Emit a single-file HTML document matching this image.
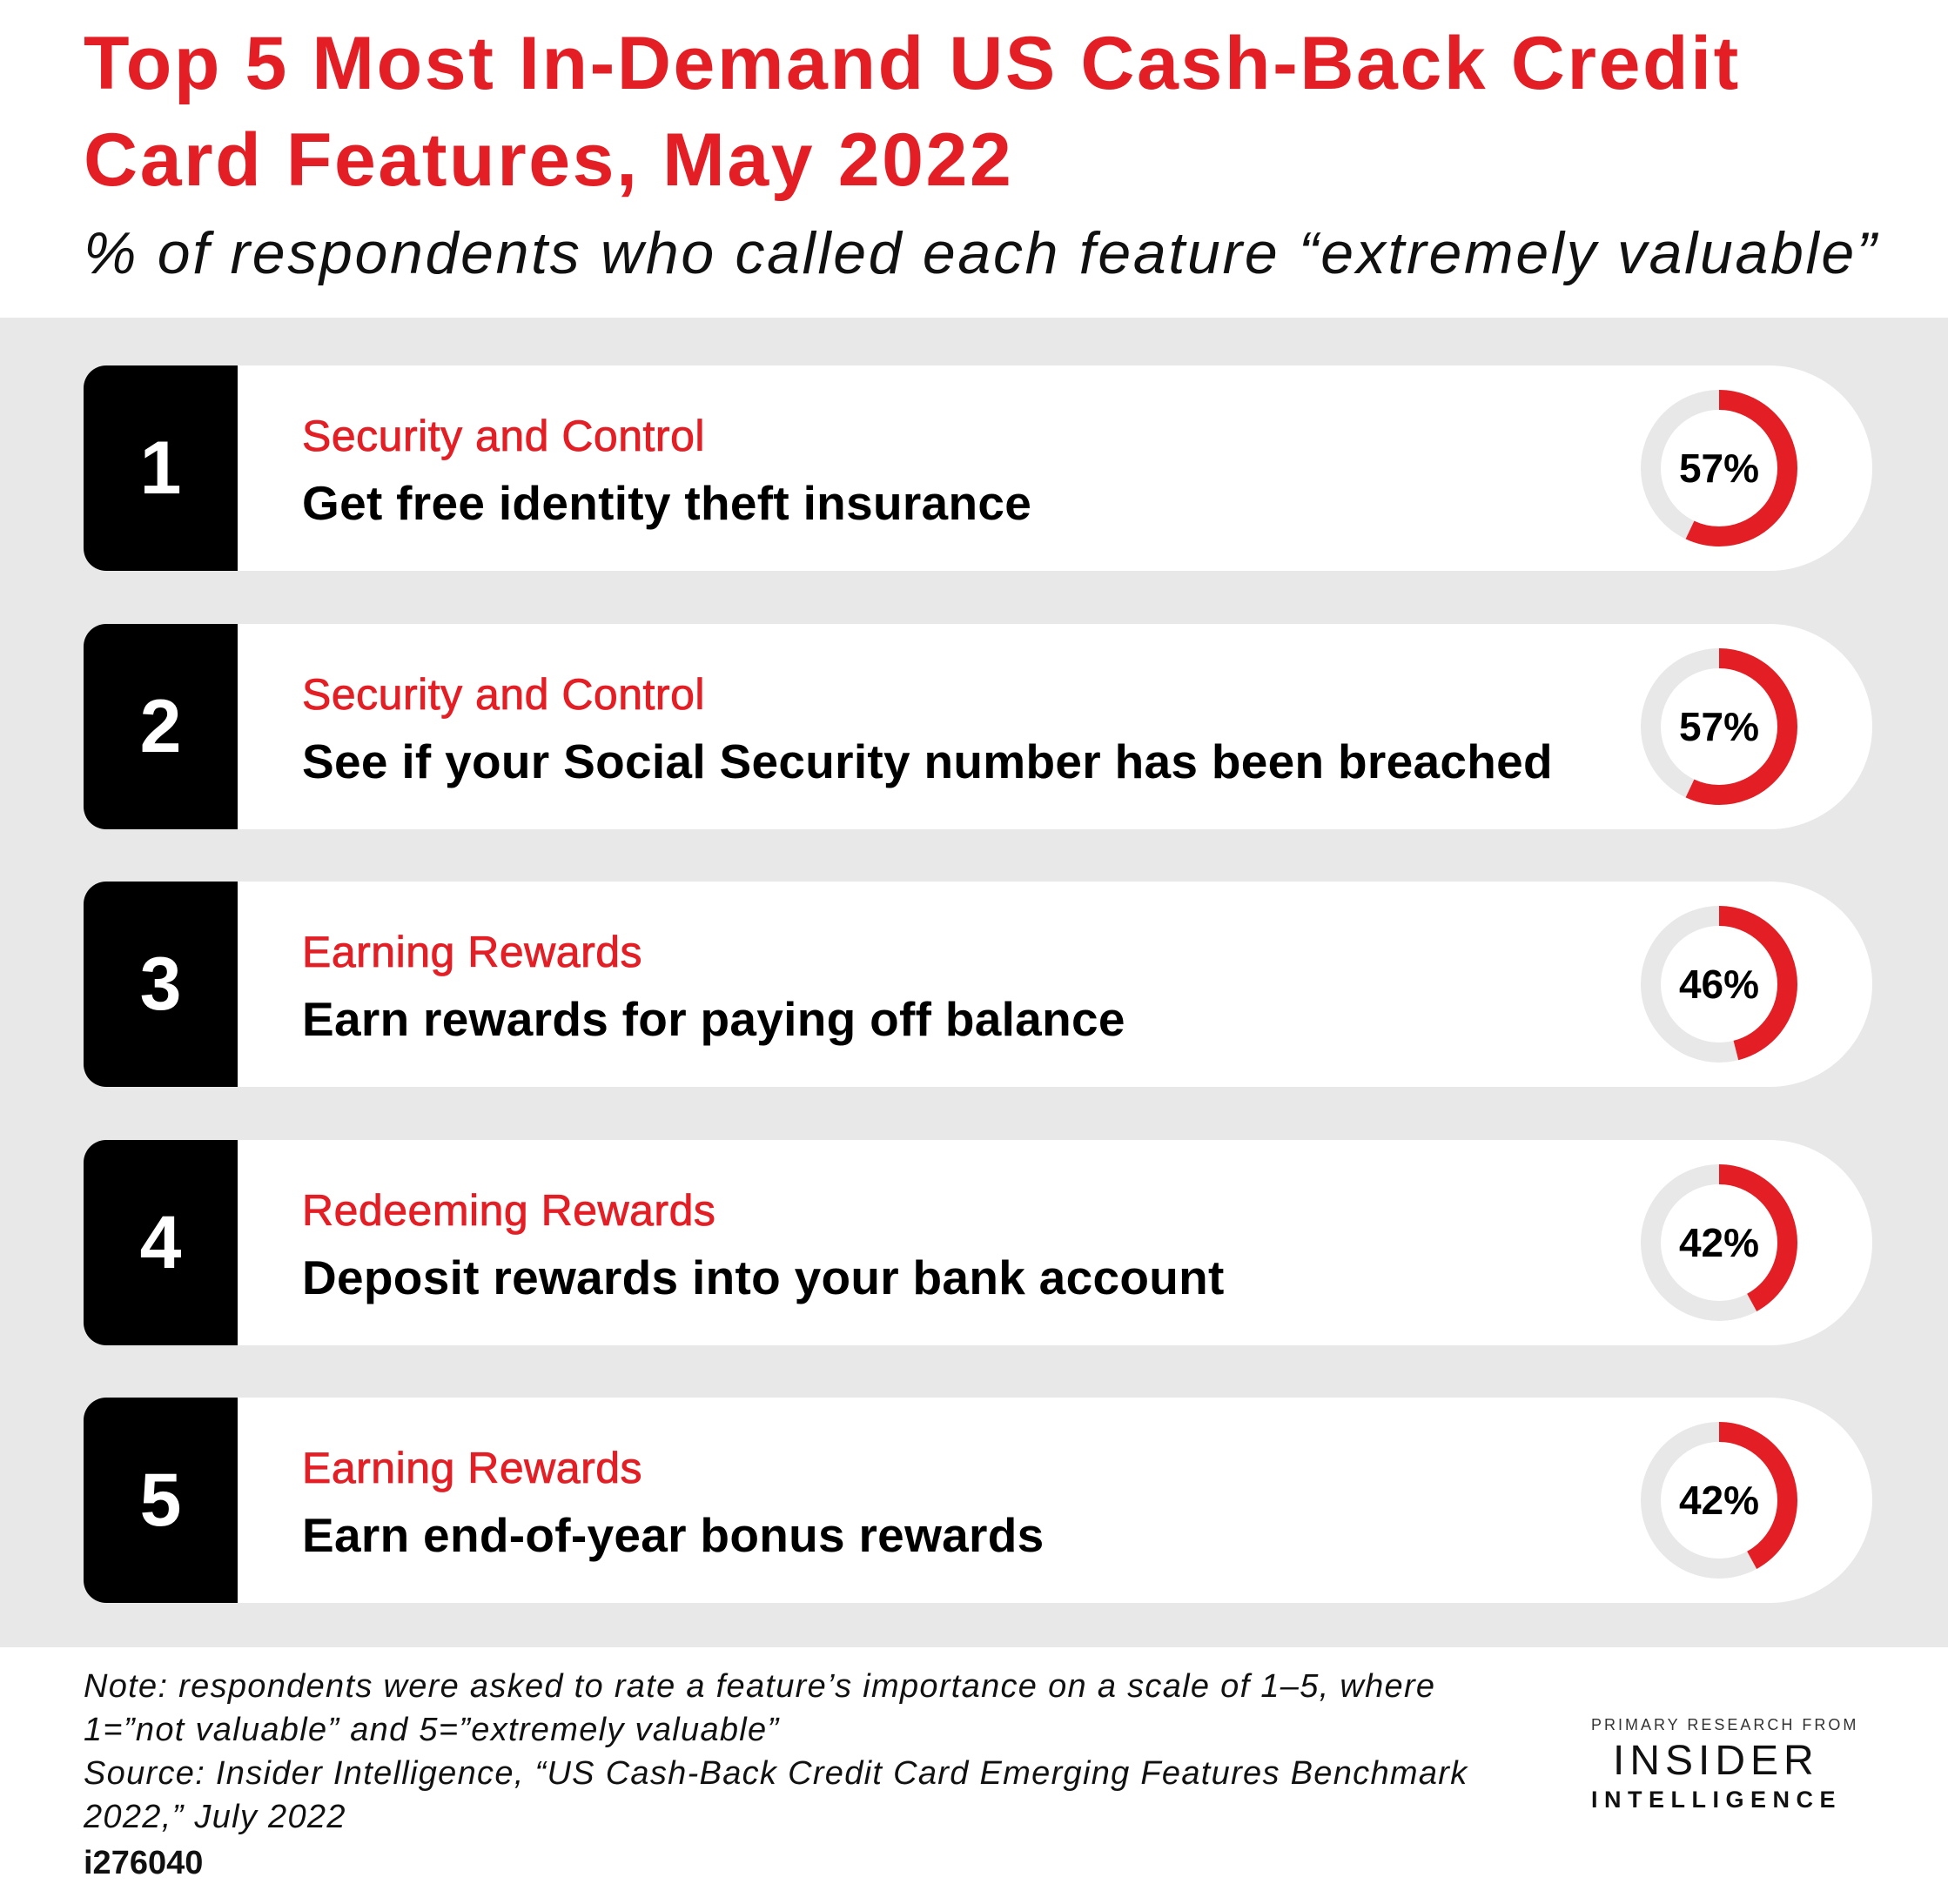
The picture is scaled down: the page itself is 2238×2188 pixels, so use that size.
<!DOCTYPE html>
<html><head><meta charset="utf-8"><style>
*{margin:0;padding:0;box-sizing:border-box}
body{width:2238px;height:2188px;background:#fff;position:relative;font-family:"Liberation Sans",sans-serif;overflow:hidden}
.t{position:absolute;white-space:nowrap}
.title{left:96px;color:#e31e24;font-weight:bold;font-size:86px;letter-spacing:2.6px}
.band{position:absolute;left:0;top:365px;width:2238px;height:1528px;background:#e8e8e8}
.card{position:absolute;left:96px;width:2055px;height:236px;background:#fff;border-radius:26px 118px 118px 26px;overflow:hidden}
.num{position:absolute;left:0;top:0;width:177px;height:236px;background:#000;color:#fff;font-weight:bold;font-size:86px;display:flex;align-items:center;justify-content:center}
.cat{position:absolute;left:251px;top:52px;color:#e31e24;font-size:50px;letter-spacing:0.5px;-webkit-text-stroke:0.8px #e31e24}
.desc{position:absolute;left:251px;top:126px;color:#000;font-size:55px;font-weight:bold;letter-spacing:0.3px}
.don{position:absolute;left:1789px;top:28px}
.note{left:96px;font-style:italic;font-size:38px;color:#111;letter-spacing:1.3px}
</style></head><body>
<div class="t title" style="top:24px">Top 5 Most In-Demand US Cash-Back Credit</div>
<div class="t title" style="top:135px">Card Features, May 2022</div>
<div class="t" style="left:96px;top:252px;font-style:italic;font-size:68px;color:#111;letter-spacing:2.7px">% of respondents who called each feature “extremely valuable”</div>
<div class="band"></div>

<div class="card" style="top:420px"><div class="num">1</div><div class="cat">Security and Control</div><div class="desc">Get free identity theft insurance</div>
<svg class="don" width="180" height="180"><circle cx="90" cy="90" r="78.5" fill="none" stroke="#e8e8e8" stroke-width="23"/><circle cx="90" cy="90" r="78.5" fill="none" stroke="#e31e24" stroke-width="23" stroke-dasharray="281.1 1000" transform="rotate(-90 90 90)"/><text x="90" y="106" text-anchor="middle" font-family="Liberation Sans" font-weight="bold" font-size="46">57%</text></svg></div>

<div class="card" style="top:717px"><div class="num">2</div><div class="cat">Security and Control</div><div class="desc">See if your Social Security number has been breached</div>
<svg class="don" width="180" height="180"><circle cx="90" cy="90" r="78.5" fill="none" stroke="#e8e8e8" stroke-width="23"/><circle cx="90" cy="90" r="78.5" fill="none" stroke="#e31e24" stroke-width="23" stroke-dasharray="281.1 1000" transform="rotate(-90 90 90)"/><text x="90" y="106" text-anchor="middle" font-family="Liberation Sans" font-weight="bold" font-size="46">57%</text></svg></div>

<div class="card" style="top:1013px"><div class="num">3</div><div class="cat">Earning Rewards</div><div class="desc">Earn rewards for paying off balance</div>
<svg class="don" width="180" height="180"><circle cx="90" cy="90" r="78.5" fill="none" stroke="#e8e8e8" stroke-width="23"/><circle cx="90" cy="90" r="78.5" fill="none" stroke="#e31e24" stroke-width="23" stroke-dasharray="226.9 1000" transform="rotate(-90 90 90)"/><text x="90" y="106" text-anchor="middle" font-family="Liberation Sans" font-weight="bold" font-size="46">46%</text></svg></div>

<div class="card" style="top:1310px"><div class="num">4</div><div class="cat">Redeeming Rewards</div><div class="desc">Deposit rewards into your bank account</div>
<svg class="don" width="180" height="180"><circle cx="90" cy="90" r="78.5" fill="none" stroke="#e8e8e8" stroke-width="23"/><circle cx="90" cy="90" r="78.5" fill="none" stroke="#e31e24" stroke-width="23" stroke-dasharray="207.2 1000" transform="rotate(-90 90 90)"/><text x="90" y="106" text-anchor="middle" font-family="Liberation Sans" font-weight="bold" font-size="46">42%</text></svg></div>

<div class="card" style="top:1606px"><div class="num">5</div><div class="cat">Earning Rewards</div><div class="desc">Earn end-of-year bonus rewards</div>
<svg class="don" width="180" height="180"><circle cx="90" cy="90" r="78.5" fill="none" stroke="#e8e8e8" stroke-width="23"/><circle cx="90" cy="90" r="78.5" fill="none" stroke="#e31e24" stroke-width="23" stroke-dasharray="207.2 1000" transform="rotate(-90 90 90)"/><text x="90" y="106" text-anchor="middle" font-family="Liberation Sans" font-weight="bold" font-size="46">42%</text></svg></div>

<div class="t note" style="top:1917px">Note: respondents were asked to rate a feature’s importance on a scale of 1–5, where</div>
<div class="t note" style="top:1967px">1=”not valuable” and 5=”extremely valuable”</div>
<div class="t note" style="top:2017px">Source: Insider Intelligence, “US Cash-Back Credit Card Emerging Features Benchmark</div>
<div class="t note" style="top:2067px">2022,” July 2022</div>
<div class="t" style="left:96px;top:2120px;font-size:38px;font-weight:bold;color:#111">i276040</div>
<div class="t" style="left:1828px;top:1972px;font-size:18px;letter-spacing:3px;color:#333">PRIMARY RESEARCH FROM</div>
<div class="t" style="left:1853px;top:1996px;font-size:48px;letter-spacing:6px;color:#111">INSIDER</div>
<div class="t" style="left:1828px;top:2053px;font-size:27px;letter-spacing:7.5px;color:#111;font-weight:bold">INTELLIGENCE</div>
</body></html>
